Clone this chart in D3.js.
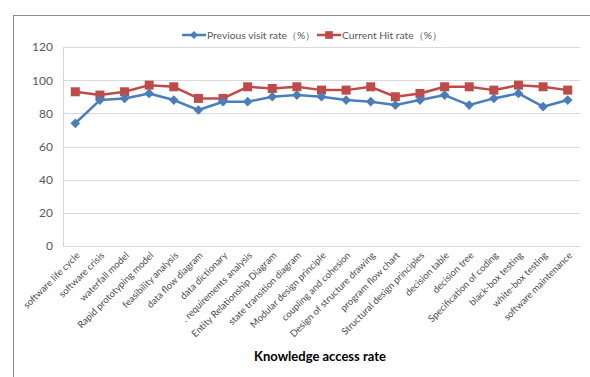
<!DOCTYPE html>
<html>
<head>
<meta charset="utf-8">
<script src="https://cdn.jsdelivr.net/npm/d3@7"></script>
<style>
  body { margin: 0; background: #fff; }
  svg { display: block; font-family: Lato, "Liberation Sans", sans-serif; }
</style>
</head>
<body>
<svg id="chart"></svg>
<script>
// categories (x axis)
var categories = [
    "software life cycle", "software crisis", "waterfall model", "Rapid prototyping model",
    "feasibility analysis", "data flow diagram", "data dictionary", ". requirements analysis",
    "Entity Relationship Diagram", "state transition diagram", "Modular design principle",
    "coupling and cohesion", "Design of structure drawing", "program flow chart",
    "Structural design principles", "decision table", "decision tree",
    "Specification of coding", "black-box testing", "white-box testing", "software maintenance"
];
var previousRate = [74, 88, 89, 92, 88, 82, 87, 87, 90, 91, 90, 88, 87, 85, 88, 91, 85, 89, 92, 84, 88];
var currentRate = [93, 91, 93, 97, 96, 89, 89, 96, 95, 96, 94, 94, 96, 90, 92, 96, 96, 94, 97, 96, 94];
var yTicks = [0, 20, 40, 60, 80, 100, 120];
var seriesNames = ["Previous visit rate（%）", "Current Hit rate（%）"];
var xTitle = "Knowledge access rate";

(function() {
    var W = 590, H = 377;
    var pLeft = 63, pRight = 580, pTop = 47, pBottom = 246;
    var cBlue = "#4A7EBB", cRed = "#BE4B48", cText = "#595959", cGrid = "#D9D9D9";

    var svg = d3.select("#chart").attr("width", W).attr("height", H);

    // внешняя рамка
    svg.append("rect")
        .attr("x", 13.5).attr("y", 15.5)
        .attr("width", W + 10).attr("height", H + 10)
        .attr("fill", "none").attr("stroke", "#8C8C8C").attr("stroke-width", 1);

    var x = d3.scaleBand().domain(categories).range([pLeft, pRight]);
    var y = d3.scaleLinear().domain([0, 120]).range([pBottom, pTop]);

    // сетка
    svg.append("g").selectAll("line").data(yTicks).join("line")
        .attr("x1", pLeft).attr("x2", pRight)
        .attr("y1", d => Math.round(y(d)) + 0.5).attr("y2", d => Math.round(y(d)) + 0.5)
        .attr("stroke", cGrid).attr("stroke-width", 1);

    svg.append("line")
        .attr("x1", pLeft + 0.5).attr("x2", pLeft + 0.5)
        .attr("y1", pTop).attr("y2", pBottom)
        .attr("stroke", cGrid);

    // ось y
    var yAxis = svg.append("g")
        .attr("transform", `translate(${pLeft},0)`)
        .call(d3.axisLeft(y).tickValues(yTicks).tickSize(0).tickPadding(10));
    yAxis.select(".domain").remove();
    yAxis.selectAll("text")
        .attr("fill", cText).style("font-size", "12px").style("font-family", "Lato, sans-serif");

    // ось x
    var xAxis = svg.append("g")
        .attr("transform", `translate(0,${pBottom})`)
        .call(d3.axisBottom(x).tickSize(0).tickPadding(0));
    xAxis.select(".domain").remove();
    xAxis.selectAll("text")
        .attr("fill", "#4D4D4D")
        .style("font-size", "9.5px").style("font-family", "Lato, sans-serif")
        .attr("text-anchor", "end")
        .attr("dy", null).attr("y", 0)
        .attr("transform", "translate(5,10) rotate(-45)");

    // линии
    var cx = d => x(d) + x.bandwidth() / 2;
    var line = d3.line().x(d => cx(d.c)).y(d => y(d.v));

    function series(values, color, marker) {
        var pts = values.map((v, i) => ({ c: categories[i], v: v }));
        svg.append("path").datum(pts)
            .attr("fill", "none").attr("stroke", color).attr("stroke-width", 2.5)
            .attr("stroke-linejoin", "round").attr("d", line);
        svg.append("g").selectAll("path").data(pts).join("path")
            .attr("transform", d => `translate(${cx(d.c)},${y(d.v)})`)
            .attr("d", marker).attr("fill", color);
    }

    var diamond = d3.symbol().type(d3.symbolDiamond2).size(60)();
    var square = "M-4.5,-4.5H4.5V4.5H-4.5Z";

    series(currentRate, cRed, square);
    series(previousRate, cBlue, diamond);

    // легенда
    var legend = [
        { name: seriesNames[0], color: cBlue, marker: diamond, x: 182 },
        { name: seriesNames[1], color: cRed, marker: square, x: 317 }
    ];
    var lg = svg.append("g").selectAll("g").data(legend).join("g")
        .attr("transform", d => `translate(${d.x},35)`);
    lg.append("line").attr("x1", 0).attr("x2", 24).attr("y1", 0).attr("y2", 0)
        .attr("stroke", d => d.color).attr("stroke-width", 2.5);
    lg.append("path").attr("transform", "translate(12,0) scale(0.85)")
        .attr("d", d => d.marker).attr("fill", d => d.color);
    lg.append("text").attr("x", 25).attr("y", 4)
        .attr("fill", cText).style("font-size", "10.3px")
        .text(d => d.name);

    // подпись оси x
    svg.append("text")
        .attr("x", 320).attr("y", 361)
        .attr("text-anchor", "middle")
        .attr("fill", "#000")
        .style("font-size", "13px").style("font-weight", "bold")
        .text(xTitle);
})();
</script>
</body>
</html>
